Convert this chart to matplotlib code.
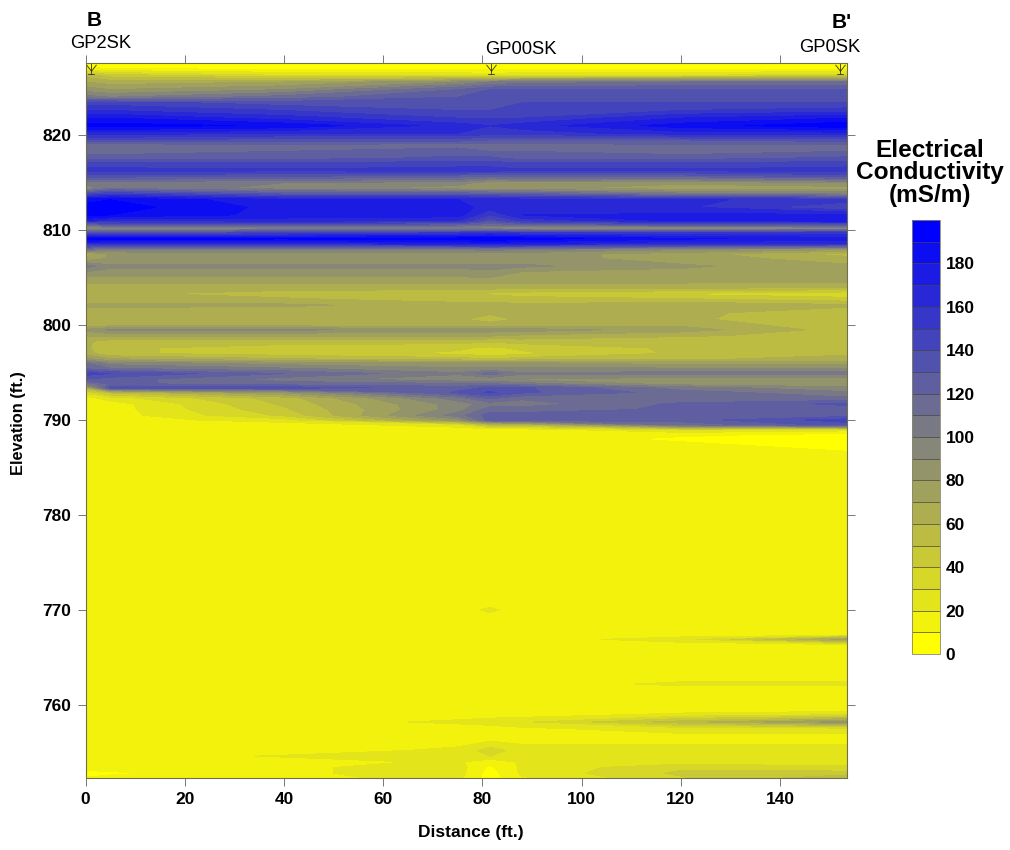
import numpy as np
import matplotlib
matplotlib.use("Agg")
import matplotlib.pyplot as plt
from matplotlib.colors import LinearSegmentedColormap
from matplotlib.path import Path

plt.rcParams['font.family'] = ['Liberation Sans', 'DejaVu Sans']

distance = [0, 5, 40, 75, 81.5, 88, 120, 153.5]
elevation = [
    827.6, 827.0, 826.3, 825.6, 824.8, 824.0, 823.4, 822.6, 821.8, 821.0,
    820.2, 819.5, 819.0, 818.3, 817.6, 817.0, 816.3, 815.7, 815.0, 814.4,
    813.8, 813.2, 812.4, 811.6, 811.0, 810.6, 810.2, 809.7, 809.1, 808.6,
    808.0, 807.5, 807.0, 806.2, 805.4, 804.6, 804.0, 803.3, 802.7, 802.1,
    801.3, 800.6, 800.0, 799.5, 798.9, 798.3, 797.6, 797.0, 796.4, 796.0,
    795.4, 794.9, 794.3, 793.8, 793.4, 792.9, 792.3, 791.7, 791.1, 790.5,
    790.0, 789.5, 789.0, 788.5, 788.0, 787.0, 786.0, 771.0, 770.0, 769.0,
    767.4, 766.9, 766.3, 763.0, 762.2, 761.5, 759.5, 759.0, 758.2, 757.5,
    756.5, 755.2, 754.6, 754.0, 753.4, 752.8, 752.2,
]
# one row per elevation, one column per distance
conductivity = [
    [5, 5, 5, 5, 5, 5, 5, 5],
    [12, 10, 8, 8, 8, 8, 8, 8],
    [55, 45, 30, 28, 25, 28, 30, 35],
    [70, 65, 70, 90, 100, 105, 110, 110],
    [85, 80, 90, 120, 130, 130, 130, 130],
    [105, 100, 115, 130, 135, 135, 135, 135],
    [145, 145, 135, 135, 135, 140, 140, 140],
    [160, 160, 150, 140, 140, 145, 150, 155],
    [180, 180, 165, 150, 150, 150, 170, 180],
    [195, 195, 188, 165, 160, 165, 185, 198],
    [165, 165, 160, 160, 155, 155, 165, 165],
    [140, 140, 135, 135, 130, 130, 130, 135],
    [115, 115, 120, 115, 115, 115, 120, 120],
    [115, 115, 120, 125, 120, 120, 115, 120],
    [125, 125, 125, 132, 132, 125, 125, 132],
    [142, 142, 142, 145, 145, 142, 142, 145],
    [155, 155, 152, 155, 155, 152, 152, 155],
    [135, 135, 132, 125, 120, 125, 125, 135],
    [105, 105, 100, 95, 85, 85, 82, 90],
    [90, 110, 95, 85, 82, 82, 75, 75],
    [140, 150, 130, 130, 125, 125, 105, 100],
    [185, 190, 172, 170, 170, 165, 162, 155],
    [195, 195, 176, 175, 165, 165, 162, 140],
    [195, 190, 176, 175, 150, 170, 172, 172],
    [170, 160, 165, 160, 135, 152, 172, 175],
    [115, 132, 132, 125, 115, 122, 132, 135],
    [85, 92, 92, 92, 92, 85, 82, 85],
    [132, 135, 142, 152, 155, 152, 152, 155],
    [198, 195, 192, 195, 198, 195, 182, 175],
    [165, 162, 162, 172, 175, 172, 162, 162],
    [112, 102, 102, 102, 105, 102, 92, 82],
    [65, 82, 85, 85, 85, 85, 75, 55],
    [72, 82, 85, 85, 85, 85, 75, 65],
    [105, 92, 92, 92, 92, 92, 82, 72],
    [85, 85, 85, 85, 88, 75, 75, 72],
    [72, 72, 72, 72, 72, 72, 72, 72],
    [65, 65, 65, 65, 65, 65, 65, 62],
    [62, 62, 55, 52, 48, 45, 38, 32],
    [62, 62, 62, 55, 58, 55, 52, 45],
    [72, 72, 72, 65, 62, 62, 68, 62],
    [65, 65, 62, 62, 62, 62, 62, 55],
    [62, 62, 62, 62, 55, 62, 62, 52],
    [65, 65, 65, 65, 65, 65, 68, 52],
    [82, 92, 92, 85, 85, 85, 75, 55],
    [72, 75, 72, 72, 72, 68, 62, 55],
    [62, 55, 55, 55, 52, 55, 52, 52],
    [62, 52, 45, 42, 38, 42, 52, 55],
    [65, 52, 45, 38, 32, 38, 52, 58],
    [85, 72, 62, 55, 52, 55, 58, 65],
    [110, 95, 85, 82, 82, 82, 75, 75],
    [120, 112, 102, 92, 92, 92, 92, 92],
    [145, 140, 120, 102, 115, 102, 105, 105],
    [130, 125, 105, 92, 92, 88, 85, 85],
    [102, 122, 115, 112, 112, 105, 85, 85],
    [62, 135, 135, 125, 132, 132, 105, 92],
    [32, 52, 82, 132, 142, 132, 115, 102],
    [15, 25, 55, 105, 122, 112, 112, 112],
    [15, 15, 52, 95, 105, 105, 122, 132],
    [15, 15, 48, 95, 115, 115, 122, 125],
    [15, 15, 42, 105, 125, 125, 122, 125],
    [15, 15, 25, 85, 125, 125, 125, 145],
    [15, 15, 15, 25, 52, 55, 112, 135],
    [15, 15, 15, 15, 15, 15, 32, 25],
    [15, 15, 15, 15, 15, 15, 12, 8],
    [15, 15, 15, 15, 15, 15, 8, 5],
    [15, 15, 15, 15, 15, 15, 15, 8],
    [15, 15, 15, 15, 15, 15, 15, 15],
    [15, 15, 15, 15, 15, 15, 15, 15],
    [15, 15, 15, 15, 22, 15, 15, 15],
    [15, 15, 15, 15, 15, 15, 15, 15],
    [15, 15, 15, 15, 15, 15, 15, 15],
    [15, 15, 15, 15, 15, 15, 25, 75],
    [15, 15, 15, 15, 15, 15, 15, 15],
    [15, 15, 15, 15, 15, 15, 15, 15],
    [15, 15, 15, 15, 15, 15, 22, 22],
    [15, 15, 15, 15, 15, 15, 15, 15],
    [15, 15, 15, 15, 15, 15, 15, 15],
    [15, 15, 15, 15, 15, 15, 22, 28],
    [15, 15, 15, 22, 25, 28, 55, 85],
    [15, 15, 15, 15, 15, 18, 25, 25],
    [15, 15, 15, 15, 15, 15, 15, 15],
    [15, 15, 15, 22, 35, 25, 25, 25],
    [15, 15, 21, 22, 30, 25, 25, 25],
    [15, 15, 15, 22, 12, 22, 25, 25],
    [15, 15, 18, 25, 8, 22, 38, 32],
    [5, 8, 18, 25, 5, 22, 42, 45],
    [12, 15, 18, 22, 5, 18, 38, 62],
]
levels = list(range(0, 210, 10))
cbar_ticks = list(range(0, 200, 20))
well_x = [1.2, 81.8, 152]
well_names = ["GP2SK", "GP00SK", "GP0SK"]

W, H = 1010, 850
fig = plt.figure(figsize=(W / 100, H / 100), dpi=100)
ax = fig.add_axes([85.5 / W, 1 - 778 / H, (847 - 85.5) / W, (778 - 63) / H])

cmap = LinearSegmentedColormap.from_list("yb", ["#ffff00", "#0000ff"], N=20)
cf = ax.contourf(distance, elevation, np.array(conductivity), levels=levels,
                 cmap=cmap, antialiased=False)

ax.set_xlim(0, 153.5)
ax.set_ylim(752.3, 827.6)
ax.set_xticks(range(0, 160, 20))
ax.set_yticks(range(760, 830, 10))
ax.tick_params(top=True, right=True, direction='out', length=6, width=0.7, color='#777777', pad=4)
for lab in ax.get_xticklabels() + ax.get_yticklabels():
    lab.set_fontsize(12.5)
    lab.set_fontweight('bold')
for sp in ax.spines.values():
    sp.set_color('#6f6f4a')
    sp.set_linewidth(0.8)

# well symbol hanging from the top of the section
well_marker = Path(
    [(0, 0), (0, -1), (-0.45, -0.12), (0, -0.7), (0.45, -0.12), (0, -0.7), (-0.3, -1), (0.3, -1)],
    [Path.MOVETO, Path.LINETO, Path.MOVETO, Path.LINETO, Path.MOVETO, Path.LINETO, Path.MOVETO, Path.LINETO],
)
ax.plot(well_x, [827.6] * len(well_x), ls='none', marker=well_marker, ms=16,
        mfc='none', mec='#333322', mew=0.6, clip_on=False)


def label(x, y, s, **kw):
    fig.text(x / W, 1 - y / H, s, ha='center', va='center', **kw)


label(94, 20, "B", fontsize=15, fontweight='bold')
label(842, 23, "B'", fontsize=15, fontweight='bold')
label(101, 44, well_names[0], fontsize=13.2)
label(521, 49, well_names[1], fontsize=13.2)
label(830, 47, well_names[2], fontsize=13.2)
label(471, 832, "Distance (ft.)", fontsize=12.5, fontweight='bold')
label(19, 423, "Elevation (ft.)", fontsize=11.8, fontweight='bold', rotation=90)
label(930, 173, "Electrical\nConductivity\n(mS/m)", fontsize=17.6, fontweight='bold', linespacing=0.98)

cax = fig.add_axes([912 / W, 1 - 654 / H, 28 / W, (654 - 220) / H])
cb = fig.colorbar(cf, cax=cax, ticks=cbar_ticks, drawedges=True)
cb.dividers.set_color('#444444')
cb.dividers.set_linewidth(0.5)
cb.outline.set_edgecolor('#888866')
cb.outline.set_linewidth(0.6)
cax.tick_params(length=0, pad=4)
for lab in cax.get_yticklabels():
    lab.set_fontsize(12.5)
    lab.set_fontweight('bold')

fig.savefig('out.png', dpi=100)
